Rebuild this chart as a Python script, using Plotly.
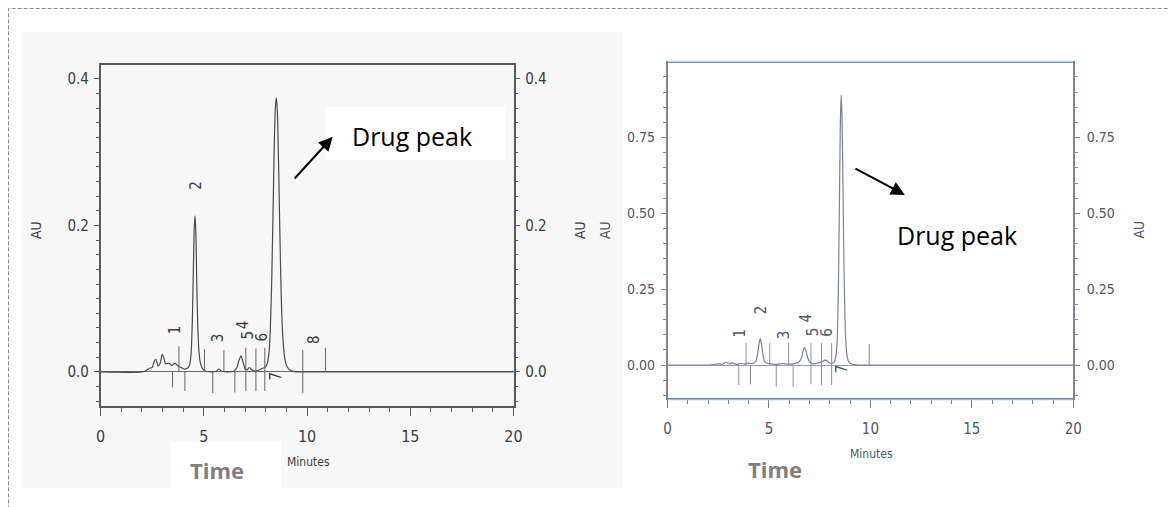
import plotly.graph_objects as go

# page body has an 8px default margin: the figure is sized so that it fills the rest of the window
OFF = 8
W, H = 1176 - OFF, 507 - OFF

# ---------------- data ----------------
# Left chromatogram (minutes, AU)
left_time = [0, 2.0, 2.2, 2.35, 2.5, 2.6, 2.68, 2.78, 2.88, 2.98, 3.05, 3.15, 3.3, 3.45, 3.6, 3.75, 3.9,
             4.05, 4.2, 4.3, 4.38, 4.44, 4.49, 4.53, 4.57, 4.61, 4.65, 4.70, 4.76, 4.84, 4.95, 5.1, 5.4,
             5.6, 5.72, 5.85, 6.1, 6.45, 6.6, 6.7, 6.8, 6.9, 7.0, 7.1, 7.2, 7.32, 7.5, 7.7, 7.85, 7.95,
             8.05, 8.15, 8.22, 8.29, 8.35, 8.41, 8.46, 8.51, 8.56, 8.62, 8.68, 8.75, 8.83, 8.92, 9.03,
             9.2, 9.5, 10, 20]
left_au = [0, 0, 0.002, 0.005, 0.006, 0.015, 0.017, 0.008, 0.012, 0.024, 0.02, 0.011, 0.012, 0.009, 0.012,
           0.008, 0.006, 0.004, 0.005, 0.009, 0.025, 0.07, 0.14, 0.195, 0.213, 0.19, 0.13, 0.065, 0.028,
           0.011, 0.004, 0.001, 0.0, 0.001, 0.004, 0.001, 0.0, 0.001, 0.006, 0.016, 0.022, 0.013, 0.004,
           0.003, 0.006, 0.003, 0.001, 0.003, 0.005, 0.006, 0.01, 0.025, 0.06, 0.13, 0.22, 0.31, 0.36,
           0.374, 0.355, 0.28, 0.19, 0.10, 0.045, 0.018, 0.007, 0.002, 0.0, 0, 0]
left_up_marks = [3.79, 5.03, 5.97, 7.03, 7.52, 7.95, 9.79, 10.89]
left_up_len = [0.035, 0.031, 0.030, 0.033, 0.032, 0.033, 0.030, 0.033]
left_down_marks = [3.48, 4.08, 5.43, 6.50, 7.03, 7.52, 7.95, 9.79]
left_down_len = [-0.021, -0.026, -0.029, -0.028, -0.026, -0.026, -0.026, -0.029]
left_labels = ["1", "2", "3", "4", "5", "6", "7", "8"]
left_label_time = [3.64, 4.60, 5.67, 6.90, 7.14, 7.80, 8.50, 10.30]
left_label_au = [0.058, 0.255, 0.047, 0.064, 0.050, 0.048, -0.006, 0.044]

# Right chromatogram (minutes, AU)
right_time = [0, 2.1, 2.3, 2.5, 2.7, 2.9, 3.05, 3.2, 3.4, 3.6, 3.8, 4.0, 4.2, 4.35, 4.45, 4.52, 4.57, 4.63,
              4.70, 4.78, 4.9, 5.1, 5.4, 5.7, 5.9, 6.2, 6.45, 6.6, 6.68, 6.74, 6.82, 6.92, 7.02, 7.2, 7.4,
              7.6, 7.75, 7.85, 7.95, 8.1, 8.22, 8.3, 8.36, 8.42, 8.47, 8.52, 8.56, 8.60, 8.65, 8.70, 8.76,
              8.83, 8.92, 9.05, 9.2, 9.5, 20]
right_au = [0, 0, 0.002, 0.004, 0.003, 0.009, 0.004, 0.007, 0.002, 0.005, 0.003, 0.006, 0.005, 0.012, 0.04,
            0.075, 0.086, 0.07, 0.035, 0.012, 0.006, 0.004, 0.002, 0.005, 0.003, 0.004, 0.008, 0.022, 0.045,
            0.057, 0.048, 0.022, 0.008, 0.004, 0.006, 0.01, 0.016, 0.015, 0.008, 0.005, 0.01, 0.03, 0.08,
            0.24, 0.52, 0.80, 0.89, 0.82, 0.58, 0.32, 0.12, 0.04, 0.012, 0.004, 0.001, 0, 0]
right_up_marks = [3.87, 5.04, 5.97, 7.07, 7.59, 8.09, 9.94]
right_up_len = [0.072, 0.072, 0.072, 0.072, 0.072, 0.072, 0.070]
right_down_marks = [3.51, 4.09, 5.36, 6.19, 7.07, 7.59, 8.09]
right_down_len = [-0.066, -0.064, -0.071, -0.072, -0.064, -0.066, -0.066]
right_labels = ["1", "2", "3", "4", "5", "6", "7"]
right_label_time = [3.59, 4.61, 5.76, 6.84, 7.15, 7.86, 8.60]
right_label_au = [0.105, 0.181, 0.099, 0.154, 0.110, 0.110, -0.011]

assert len(left_time) == len(left_au)
assert len(right_time) == len(right_au)

# ---------------- helpers (window pixels -> paper fractions) ----------------
def px(x):
    return (x - OFF) / W


def py(y):
    return 1 - (y - OFF) / H


def segs(times, lens):
    xs, ys = [], []
    for t, l in zip(times, lens):
        xs += [t, t, None]
        ys += [0, l, None]
    return xs, ys


NARROW = "Liberation Sans Narrow, Arial Narrow, DejaVu Sans Condensed, sans-serif"
CAL = "Open Sans, Lato, sans-serif"

LGRAY = "#5a5a5a"
RGRAY = "#7d8795"
LTXT = "#3c3c3c"
RTXT = "#4f5563"

fig = go.Figure()

# Left panel traces
fig.add_trace(go.Scatter(x=left_time, y=left_au, mode="lines", line=dict(color="#4a4a4a", width=1.2,
                         shape="spline", smoothing=0.6), xaxis="x", yaxis="y", hoverinfo="skip"))
for times, lens in [(left_up_marks, left_up_len), (left_down_marks, left_down_len)]:
    xs, ys = segs(times, lens)
    fig.add_trace(go.Scatter(x=xs, y=ys, mode="lines", line=dict(color="#666", width=1),
                             xaxis="x", yaxis="y", hoverinfo="skip"))
fig.add_trace(go.Scatter(x=[0], y=[0], mode="markers", marker=dict(opacity=0), xaxis="x", yaxis="y2",
                         hoverinfo="skip"))

# Right panel traces
fig.add_trace(go.Scatter(x=right_time, y=right_au, mode="lines", line=dict(color="#7b8296", width=1.2,
                         shape="spline", smoothing=0.6), xaxis="x2", yaxis="y3", hoverinfo="skip"))
for times, lens in [(right_up_marks, right_up_len), (right_down_marks, right_down_len)]:
    xs, ys = segs(times, lens)
    fig.add_trace(go.Scatter(x=xs, y=ys, mode="lines", line=dict(color="#8a8f9a", width=1),
                             xaxis="x2", yaxis="y3", hoverinfo="skip"))
fig.add_trace(go.Scatter(x=[0], y=[0], mode="markers", marker=dict(opacity=0), xaxis="x2", yaxis="y4",
                         hoverinfo="skip"))

L_X = [px(100.7), px(513.5)]
L_Y = [py(406), py(65)]
R_X = [px(667.5), px(1073.3)]
R_Y = [py(398.2), py(62.7)]
L_RANGE = [-0.0465, 0.419]
R_RANGE = [-0.1095, 0.997]

tickfont_l = dict(family=NARROW, size=15, color=LTXT)
xtickfont_l = dict(family=NARROW, size=16, color=LTXT)
tickfont_r = dict(family=NARROW, size=14, color=RTXT)
xtickfont_r = dict(family=NARROW, size=15, color=RTXT)


def xax(domain, anchor, color, font, standoff, width=1.5):
    return dict(domain=domain, anchor=anchor, range=[0, 20], showline=True, mirror=True, linecolor=color,
                linewidth=width, ticks="outside", ticklen=8, tickwidth=1, tickcolor=color, tick0=0, dtick=5,
                minor=dict(dtick=1, ticks="outside", ticklen=4, tickcolor=color), tickfont=font,
                showgrid=False, zeroline=False, ticklabelstandoff=standoff, fixedrange=True,
                automargin=False)


def yax(domain, anchor, rng, color, font, dtick, mdtick, fmt, side="left", overlaying=None, zero=True,
        zcolor="#666", standoff=0):
    d = dict(domain=domain, anchor=anchor, range=rng, showline=True, linecolor=color, linewidth=1.5,
             ticks="outside", ticklen=5, tickwidth=1, tickcolor=color, tick0=0, dtick=dtick,
             tickformat=fmt, minor=dict(dtick=mdtick, ticks="outside", ticklen=3, tickcolor=color),
             tickfont=font, showgrid=False, zeroline=zero, zerolinecolor=zcolor, zerolinewidth=1.2,
             side=side, fixedrange=True, automargin=False, ticklabelstandoff=standoff)
    if overlaying:
        d["overlaying"] = overlaying
    return d


fig.update_layout(
    template="none",
    width=W, height=H, margin=dict(l=0, r=0, t=0, b=0, pad=0, autoexpand=False), showlegend=False,
    paper_bgcolor="white", plot_bgcolor="rgba(0,0,0,0)",
    xaxis=xax(L_X, "y", LGRAY, xtickfont_l, 7),
    yaxis=yax(L_Y, "x", L_RANGE, LGRAY, tickfont_l, 0.2, 0.02, ".1f", standoff=2),
    yaxis2=yax(L_Y, "x", L_RANGE, LGRAY, tickfont_l, 0.2, 0.02, ".1f", side="right", overlaying="y",
               zero=False, standoff=2),
    xaxis2=xax(R_X, "y3", "#6f7c9c", xtickfont_r, 8, width=2),
    yaxis3=yax(R_Y, "x2", R_RANGE, RGRAY, tickfont_r, 0.25, 0.05, ".2f", zcolor="#8f99c8", standoff=3),
    yaxis4=yax(R_Y, "x2", R_RANGE, RGRAY, tickfont_r, 0.25, 0.05, ".2f", side="right", overlaying="y3",
               zero=False, standoff=4),
)

shapes = [
    # scanned background of left figure
    dict(type="rect", xref="paper", yref="paper", x0=px(21.5), x1=px(622), y0=py(488), y1=py(32),
         fillcolor="#f7f7f7", line=dict(width=0), layer="below"),
    # white boxes behind overlaid text
    dict(type="rect", xref="paper", yref="paper", x0=px(171), x1=px(281), y0=py(488), y1=py(442),
         fillcolor="white", line=dict(width=0), layer="below"),
    dict(type="rect", xref="paper", yref="paper", x0=px(325), x1=px(505), y0=py(160), y1=py(107),
         fillcolor="white", line=dict(width=0), layer="below"),
    # tinted top edge of the right (colour scanned) frame
    dict(type="line", xref="paper", yref="paper", x0=R_X[0], x1=R_X[1], y0=py(61.5), y1=py(61.5),
         line=dict(color="#a9d6e2", width=1.5)),
    dict(type="line", xref="paper", yref="paper", x0=R_X[0], x1=R_X[1], y0=py(399.8), y1=py(399.8),
         line=dict(color="#b6dbe8", width=1)),
    # dashed outer frame
    dict(type="rect", xref="paper", yref="paper", x0=0.5 / W, x1=1.02, y0=-0.05, y1=1 - 0.5 / H,
         line=dict(color="#8c8c8c", width=1, dash="4px,2px"), fillcolor="rgba(0,0,0,0)"),
]
fig.update_layout(shapes=shapes)

ann = []


def note(x, y, text, font, xref="paper", yref="paper", angle=0):
    ann.append(dict(x=x, y=y, xref=xref, yref=yref, text=text, showarrow=False, textangle=angle,
                    xanchor="center", yanchor="middle", font=font))


# peak labels
for t, tx, ty in zip(left_labels, left_label_time, left_label_au):
    note(tx, ty, t, dict(family=NARROW, size=15, color=LTXT), "x", "y", -90)
for t, tx, ty in zip(right_labels, right_label_time, right_label_au):
    note(tx, ty, t, dict(family=NARROW, size=15, color=RTXT), "x2", "y3", -90)

# AU labels
for x, c in [(36, LTXT), (580, LTXT), (605, RTXT), (1138.5, RTXT)]:
    note(px(x), py(230), "AU", dict(family=NARROW, size=14, color=c), angle=-90)

# Minutes labels
note(px(308.5), py(462), "Minutes", dict(family=NARROW, size=12, color=LTXT))
note(px(871), py(454), "Minutes", dict(family=NARROW, size=12, color=RTXT))

# Time labels
note(px(217), py(470), "<b>Time</b>", dict(family=CAL, size=22, color="#808080"))
note(px(775), py(469), "<b>Time</b>", dict(family=CAL, size=22, color="#808080"))

# Drug peak labels
note(px(412), py(136), "Drug peak", dict(family=CAL, size=25, color="black"))
note(px(957), py(235), "Drug peak", dict(family=CAL, size=25, color="black"))

# Arrows (head at x,y; tail at ax,ay)
ann.append(dict(x=11.24, y=0.321, xref="x", yref="y", ax=9.33, ay=0.262, axref="x", ayref="y", text="",
                showarrow=True, arrowhead=2, arrowsize=1.4, arrowwidth=2, arrowcolor="black", standoff=0))
ann.append(dict(x=11.70, y=0.561, xref="x2", yref="y3", ax=9.19, ay=0.65, axref="x2", ayref="y3", text="",
                showarrow=True, arrowhead=2, arrowsize=1.4, arrowwidth=2, arrowcolor="black", standoff=0))

fig.update_layout(annotations=ann)

fig.write_html("out.html")
